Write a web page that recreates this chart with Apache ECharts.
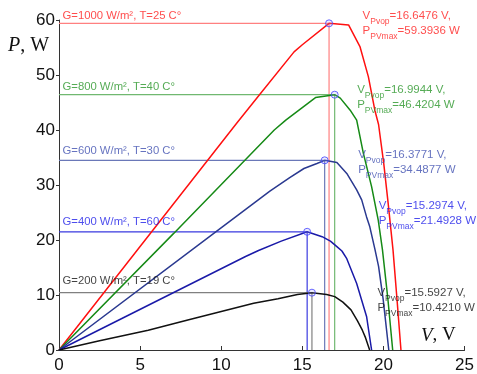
<!DOCTYPE html>
<html><head><meta charset="utf-8">
<script src="https://cdn.jsdelivr.net/npm/echarts@6/dist/echarts.min.js"></script>
<style>html,body{margin:0;padding:0;background:#fff}#c{width:477px;height:374px}</style>
</head><body><div id="c"></div>
<script>
// ---- data ----
const xTicks = [0, 5, 10, 15, 20, 25];
const yTicks = [0, 10, 20, 30, 40, 50, 60];
const irradiance = [1000, 800, 600, 400, 200];
const temperature = [25, 40, 30, 60, 19];
const vmp = [16.6476, 16.9944, 16.3771, 15.2974, 15.5927];
const pmax = [59.3936, 46.4204, 34.4877, 21.4928, 10.4210];
const curveG1000 = [[0,0],[11,41.4],[12.36,46.4],[14.49,54.2],[15.0,55.5],[16.6476,59.3936],[17.85,59.1],[18.56,55.1],[19.07,49.7],[19.47,43.6],[19.7,41],[20.02,33.9],[20.29,26.7],[20.59,18.2],[20.84,9.1],[21.08,0]];
const curveG800 = [[0,0],[7.07,21.2],[13.27,40.0],[13.98,41.8],[15.81,45.9],[16.9944,46.4204],[17.34,45.8],[17.95,43.6],[18.35,41.8],[18.76,35.8],[19.27,29.7],[19.68,23.6],[19.94,18.2],[20.28,9.1],[20.57,0]];
const curveG600 = [[0,0],[9.5,21.1],[13.0,28.9],[14.2,31.3],[15.1,33.0],[15.9,33.9],[16.3771,34.4877],[17.13,34.1],[17.74,32.1],[18.35,29.1],[18.66,27.3],[18.96,24.2],[19.16,22.4],[19.47,18.4],[19.7,15.2],[19.98,9.3],[20.33,0]];
const curveG400 = [[0,0],[11.5,17.0],[12.3,18.1],[13.7,19.8],[15.2974,21.4928],[16.22,20.6],[16.73,19.8],[17.13,18.8],[17.44,18.0],[17.74,16.6],[18.35,12.1],[18.96,6.1],[19.27,0]];
const curveG200 = [[0,0],[2.5,1.7],[5.5,3.6],[8,5.5],[10,7.0],[12,8.5],[13.5,9.3],[14.7,10.1],[15.5927,10.4210],[16.5,10.1],[17.0,9.7],[17.5,8.7],[18.0,7.3],[18.4,5.3],[18.7,3.6],[18.9,2.2],[19.15,0]];
const curves = [curveG1000, curveG800, curveG600, curveG400, curveG200];

// ---- styles ----
const curveColor = ['#ff1010', '#168a16', '#2a3990', '#1a1aa8', '#111111'];
const guideColor = ['#ff8080', '#70b870', '#6a78b8', '#3a3ae0', '#808080'];
const textColor  = ['#ff2020', '#2a962a', '#4050b0', '#2020e8', '#111111'];
const rightOffset = [[34,-13],[23,-10],[34,-11],[72,-31],[66,-5]];
const leftOffset  = [[4,-13.5],[4,-14],[4,-15.5],[4,-16],[4,-18.3]];

const series = [];
curves.forEach((c, i) => {
  series.push({
    type: 'line', data: [[0, pmax[i]], [vmp[i], pmax[i]], [vmp[i], 0]],
    symbol: 'none', silent: true, z: 1,
    lineStyle: { color: guideColor[i], width: 1.2 }
  });
});
curves.forEach((c, i) => {
  series.push({
    type: 'line', data: c, symbol: 'none', silent: true, z: 3,
    lineStyle: { color: curveColor[i], width: 1.5 }
  });
});
series.push({
  type: 'scatter', data: vmp.map((v, i) => [v, pmax[i]]), symbol: 'circle', symbolSize: 7, z: 5,
  itemStyle: { color: 'rgba(160,160,255,0.25)', borderColor: '#4444ff', borderWidth: 1 }
});
vmp.forEach((v, i) => {
  const col = textColor[i];
  series.push({
    type: 'scatter', data: [[v, pmax[i]]], symbolSize: 1, z: 6, clip: false, silent: true,
    itemStyle: { color: 'transparent' },
    label: {
      show: true, position: rightOffset[i],
      formatter: `{m|V}{s|Pvop}{m|=${vmp[i].toFixed(4)} V,}\n{m|P}{s|PVmax}{m|=${pmax[i].toFixed(4)} W}`,
      rich: {
        m: { fontSize: 11.5, fontFamily: 'Liberation Sans', lineHeight: 15, verticalAlign: 'top', color: col },
        s: { fontSize: 8.5, fontFamily: 'Liberation Sans', lineHeight: 4, padding: [7, 0, 0, 0], verticalAlign: 'top', color: col }
      }
    }
  });
  series.push({
    type: 'scatter', data: [[0, pmax[i]]], symbolSize: 1, z: 6, clip: false, silent: true,
    itemStyle: { color: 'transparent' },
    label: {
      show: true, position: leftOffset[i],
      formatter: `G=${irradiance[i]} W/m², T=${temperature[i]} C°`,
      fontSize: 11.3, fontFamily: 'Liberation Sans', lineHeight: 13, color: col
    }
  });
});

const chart = echarts.init(document.getElementById('c'), null, { renderer: 'canvas' });
chart.setOption({
  animation: false,
  backgroundColor: '#fff',
  grid: { left: 59, right: 8, top: 20, bottom: 24, containLabel: false },
  xAxis: {
    type: 'value', min: xTicks[0], max: xTicks[xTicks.length - 1], interval: 5,
    axisLine: { lineStyle: { color: '#333', width: 1 } },
    axisTick: { inside: true, length: 4, lineStyle: { color: '#333' } },
    axisLabel: { fontSize: 17, fontFamily: 'Liberation Sans', color: '#111', margin: 7 },
    splitLine: { show: false }
  },
  yAxis: {
    type: 'value', min: yTicks[0], max: yTicks[yTicks.length - 1], interval: 10,
    axisLine: { show: true, lineStyle: { color: '#333', width: 1 } },
    axisTick: { show: true, inside: false, length: 3, lineStyle: { color: '#333' } },
    axisLabel: { fontSize: 17, fontFamily: 'Liberation Sans', color: '#111', margin: 4 },
    splitLine: { show: false }
  },
  graphic: [
    { type: 'text', left: 8, top: 36, style: { text: '{i|P}{n|, W}', rich: {
      i: { fontSize: 20, fontFamily: 'Liberation Serif', fontStyle: 'italic', fill: '#111' },
      n: { fontSize: 20, fontFamily: 'Liberation Serif', fill: '#111' } } } },
    { type: 'text', left: 421, top: 326, style: { text: '{i|V}{n|, V}', rich: {
      i: { fontSize: 19, fontFamily: 'Liberation Serif', fontStyle: 'italic', fill: '#111' },
      n: { fontSize: 19, fontFamily: 'Liberation Serif', fill: '#111' } } } }
  ],
  series: series
});
</script></body></html>
